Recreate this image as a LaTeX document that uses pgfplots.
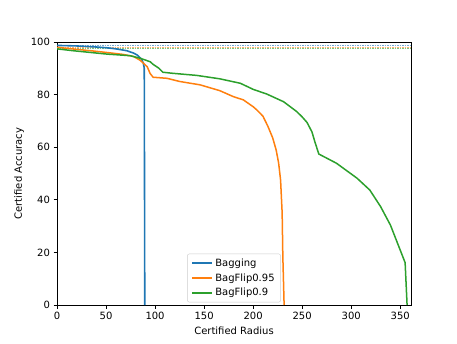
\documentclass[border=0pt]{standalone}
\usepackage{fontspec}
\setmainfont{DejaVu Sans}
\usepackage{pgfplots}
\pgfplotsset{compat=1.18}
\definecolor{tabblue}{HTML}{1F77B4}
\definecolor{taborange}{HTML}{FF7F0E}
\definecolor{tabgreen}{HTML}{2CA02C}
\definecolor{lightblue}{HTML}{79ADD2}
\definecolor{lightorange}{HTML}{FFB26E}
\definecolor{lightgreen}{HTML}{7FC67F}
\begin{document}
\begin{tikzpicture}
\begin{axis}[
  scale only axis,
  width=354pt, height=263pt,
  xmin=0, xmax=361, ymin=0, ymax=100,
  xtick={0,50,...,350}, ytick={0,20,...,100},
  xtick pos=bottom, ytick pos=left,
  tick align=outside, major tick length=3.5pt,
  tick style={black, line width=0.8pt},
  axis line style={line width=0.8pt},
  /pgf/number format/assume math mode=true,
  ticklabel style={font=\fontsize{10}{12}\selectfont},
  xlabel={Certified Radius}, ylabel={Certified Accuracy},
  label style={font=\fontsize{10}{12}\selectfont},
  legend cell align=left,
  legend style={at={(0.5,0.01)}, anchor=south, draw=black!20, rounded corners=2pt,
    font=\fontsize{10}{12}\selectfont, inner xsep=4pt, inner ysep=3pt, row sep=1.5pt},
  legend image code/.code={\draw[#1] (0pt,0pt) -- (20pt,0pt);},
]
\addlegendimage{draw=tabblue, line width=2pt}
\addlegendentry{Bagging}
\addlegendimage{draw=taborange, line width=2pt}
\addlegendentry{BagFlip0.95}
\addlegendimage{draw=tabgreen, line width=2pt}
\addlegendentry{BagFlip0.9}
\addplot[draw=lightblue, dash pattern=on 1.5pt off 1pt, line width=1.2pt, forget plot] coordinates {(0,98.7) (361,98.7)};
\addplot[draw=lightorange, dash pattern=on 1.5pt off 1pt, line width=1.2pt, forget plot] coordinates {(0,98.0) (361,98.0)};
\addplot[draw=lightgreen, dash pattern=on 1.5pt off 1pt, line width=1.2pt, forget plot] coordinates {(0,97.4) (361,97.4)};
\addplot[draw=tabblue, line width=1.6pt, forget plot] coordinates {
(0,98.7) (20,98.5) (40,98.1) (51,97.8) (60,97.4) (71,96.7) (78,95.8) (82,95) (86,93.5) (88,92) (89,90) (89.5,0)};
\addplot[draw=taborange, line width=1.5pt, forget plot] coordinates {
(0,98) (20,97.2) (34,96.7) (51,96) (67,95.3) (78,94.5) (85,93) (92,90.6) (95,88) (98,86.6) (112,86.2) (125,85) (146,83.7) (166,81.5) (180,79.2) (190,78) (200,75.4) (204,74.1) (210,71.8) (215,68) (220,63.5) (223.5,58.9) (226,54) (228,47.5) (229.6,35) (230.3,18.4) (231.6,0)};
\addplot[draw=tabgreen, line width=1.5pt, forget plot] coordinates {
(0,97.4) (16,96.7) (51,95.4) (74.5,94.8) (85,93.8) (95,92.5) (98,91.5) (104,90) (108,88.5) (118,88.1) (142.5,87.3) (166,86) (187,84.3) (200,82) (214,80.2) (231,77.3) (244.6,73.5) (250,71.5) (255,69.4) (260,65.8) (263,62) (267,57.4) (285,53.9) (306,48.2) (319,43.7) (330,37.4) (340,30.4) (355,16.1) (357,0)};
\end{axis}
\path (-57pt,-38pt) rectangle (400pt,305pt);
\end{tikzpicture}
\end{document}
